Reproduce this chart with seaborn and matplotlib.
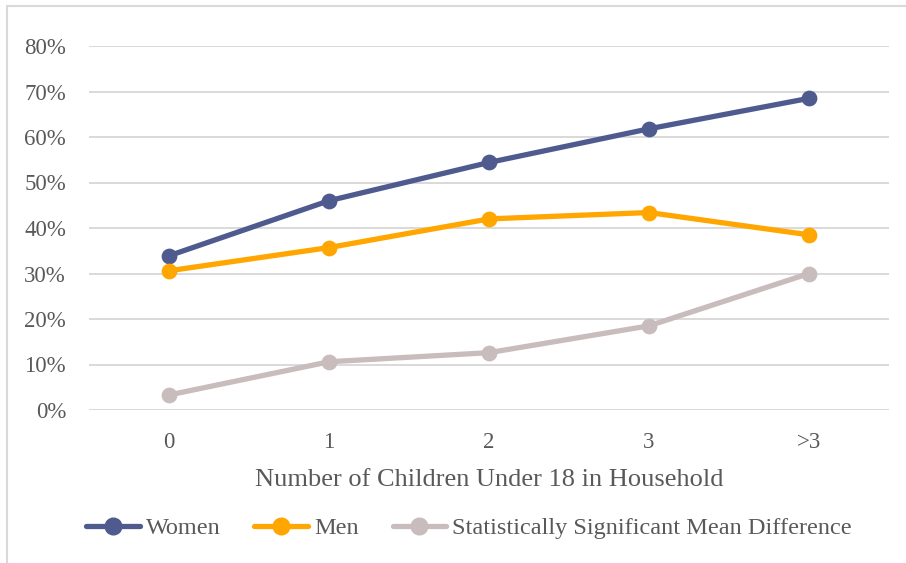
import matplotlib
matplotlib.use("Agg")
import matplotlib.pyplot as plt
import matplotlib.ticker as mticker
from matplotlib.lines import Line2D
import seaborn as sns
import pandas as pd

categories = ["0", "1", "2", "3", ">3"]
women = [0.339, 0.460, 0.544, 0.618, 0.685]
men = [0.306, 0.357, 0.420, 0.434, 0.385]
diff = [0.033, 0.106, 0.126, 0.185, 0.300]
series_names = ["Women", "Men", "Statistically Significant Mean Difference"]
colors = ["#4F5B8E", "#FFA600", "#C8BCBC"]

df = pd.DataFrame({
    "children": categories * 3,
    "value": women + men + diff,
    "series": [series_names[0]] * 5 + [series_names[1]] * 5 + [series_names[2]] * 5,
})

sns.set_theme(style="white")
plt.rcParams["font.family"] = ["Liberation Serif", "DejaVu Serif"]

fig = plt.figure(figsize=(9.06, 5.63), dpi=100)
ax = fig.add_axes([89 / 906, 1 - 410 / 563, 800 / 906, 364 / 563])

sns.pointplot(data=df, x="children", y="value", hue="series", order=categories,
              hue_order=series_names, palette=colors, markers="o", linestyles="-",
              errorbar=None, markersize=8.5, linewidth=3.8, ax=ax, legend=False)

ax.set_xlim(-0.5, 4.5)
ax.set_ylim(0, 0.8)
ax.set_yticks([i / 10 for i in range(9)])
ax.yaxis.set_major_formatter(mticker.PercentFormatter(1.0, decimals=0))
ax.yaxis.grid(True, color="#D9D9D9", linewidth=1.4)
ax.set_axisbelow(True)
for s in ax.spines.values():
    s.set_visible(False)
ax.tick_params(axis="both", length=0, labelsize=16.5, colors="#595959")
ax.tick_params(axis="y", pad=16.5)
ax.tick_params(axis="x", pad=16)
ax.set_xlabel("Number of Children Under 18 in Household", fontsize=19, color="#595959", labelpad=11)
ax.set_ylabel("")

handles = [Line2D([], [], color=c, linewidth=3.8, marker="o", markersize=12) for c in colors]
fig.legend(handles, series_names, loc="center", bbox_to_anchor=(469 / 906, 1 - 528 / 563), ncol=3,
           frameon=False, fontsize=17.5, handlelength=2.2, handletextpad=0.25, columnspacing=1.4,
           labelcolor="#595959")

# outer border (left and top)
fig.add_artist(Line2D([7 / 906, 7 / 906], [0, 1 - 6 / 563], color="#D9D9D9", linewidth=1.5, transform=fig.transFigure))
fig.add_artist(Line2D([7 / 906, 1], [1 - 6 / 563, 1 - 6 / 563], color="#D9D9D9", linewidth=1.5, transform=fig.transFigure))

fig.savefig("out.png", dpi=100)
